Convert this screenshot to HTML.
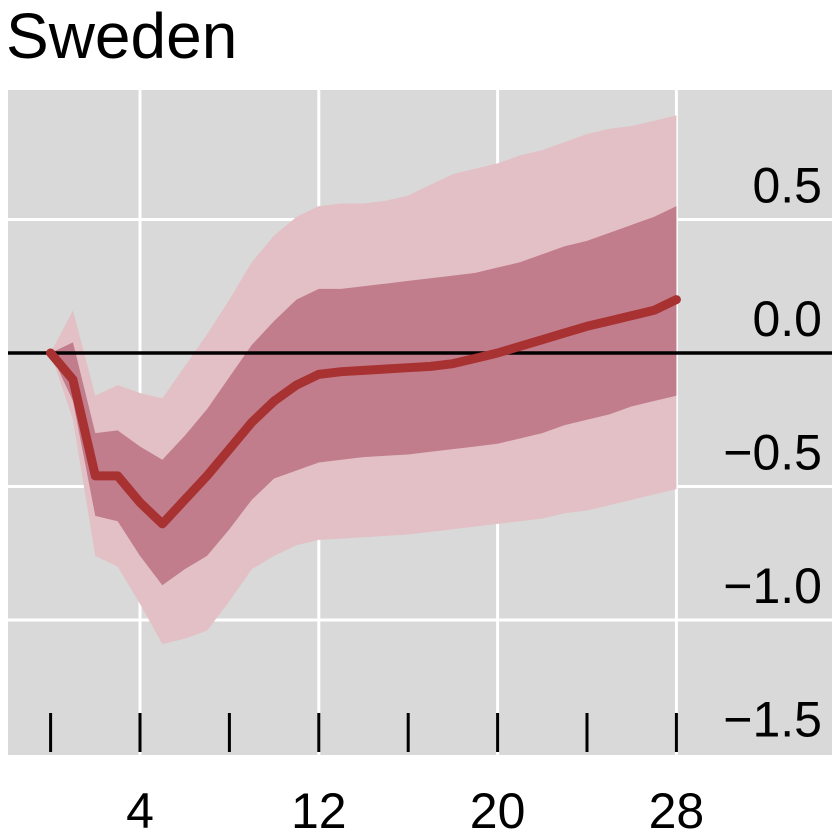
<!DOCTYPE html>
<html><head><meta charset="utf-8"><style>body{margin:0;background:#fff}svg{display:block}</style></head>
<body>
<svg width="840" height="838" xmlns="http://www.w3.org/2000/svg" font-family="Liberation Sans, DejaVu Sans, sans-serif">
<text x="6" y="58" font-size="64" fill="#000">Sweden</text>
<rect x="8" y="90" width="824" height="665" fill="#d9d9d9"/>
<g id="grid"></g><g id="bands"></g><g id="lines"></g><g id="axes"></g>
</svg>
<script>
const xs=[0,1,2,3,4,5,6,7,8,9,10,11,12,13,14,15,16,17,18,19,20,21,22,23,24,25,26,27,28];
const median=[0,-0.1,-0.46,-0.46,-0.56,-0.64,-0.55,-0.46,-0.36,-0.26,-0.18,-0.12,-0.08,-0.07,-0.065,-0.06,-0.055,-0.05,-0.04,-0.02,0,0.025,0.05,0.075,0.1,0.12,0.14,0.16,0.2];
const innerUp=[0,0.04,-0.3,-0.29,-0.35,-0.4,-0.31,-0.21,-0.09,0.03,0.12,0.2,0.24,0.24,0.25,0.26,0.27,0.28,0.29,0.3,0.32,0.34,0.37,0.4,0.42,0.45,0.48,0.51,0.55];
const innerLo=[0,-0.18,-0.61,-0.63,-0.76,-0.87,-0.81,-0.76,-0.66,-0.55,-0.47,-0.44,-0.41,-0.4,-0.39,-0.385,-0.38,-0.37,-0.36,-0.35,-0.34,-0.32,-0.3,-0.27,-0.25,-0.23,-0.2,-0.18,-0.16];
const outerUp=[0,0.16,-0.16,-0.12,-0.15,-0.17,-0.05,0.07,0.2,0.34,0.44,0.51,0.55,0.56,0.56,0.57,0.59,0.63,0.67,0.69,0.71,0.74,0.76,0.79,0.82,0.84,0.85,0.87,0.89];
const outerLo=[0,-0.25,-0.76,-0.8,-0.94,-1.09,-1.07,-1.04,-0.93,-0.81,-0.76,-0.72,-0.7,-0.695,-0.69,-0.685,-0.68,-0.67,-0.66,-0.65,-0.64,-0.63,-0.62,-0.6,-0.59,-0.57,-0.55,-0.53,-0.51];
const yTicks=[0.5,0,-0.5,-1,-1.5];
const yTickLabels=["0.5","0.0","\u22120.5","\u22121.0","\u22121.5"];
const xGrid=[4,12,20,28];
const xTicks=[0,4,8,12,16,20,24,28];
const xTickLabels=["4","12","20","28"];
const NS="http://www.w3.org/2000/svg";
const X=v=>50.6+v*22.35, Y=v=>353-v*267;
function mk(p,t,a){const e=document.createElementNS(NS,t);for(const k in a)e.setAttribute(k,a[k]);document.getElementById(p).appendChild(e);return e;}
yTicks.forEach((v,i)=>{if(v>-1.5){const l=mk('grid','line',{x1:8,x2:832,y1:Y(v),y2:Y(v),stroke:'#fff','stroke-width':3});

}
const t=mk('axes','text',{x:822,y:Y(v)-17,'text-anchor':'end','font-size':50,fill:'#000'});t.textContent=yTickLabels[i];

});
xGrid.forEach((v,i)=>{const l=mk('grid','line',{x1:X(v),x2:X(v),y1:90,y2:755,stroke:'#fff','stroke-width':3});


const t=mk('axes','text',{x:X(v),y:828,'text-anchor':'middle','font-size':50,fill:'#000'});t.textContent=xTickLabels[i];

});
xTicks.forEach(v=>{const l=mk('axes','line',{x1:X(v),x2:X(v),y1:713,y2:752,stroke:'#000','stroke-width':3});

});
function band(up,lo,fill,name){let d=xs.map((x,i)=>(i?'L':'M')+X(x)+','+Y(up[i])).join('');
for(let i=xs.length-1;i>=0;i--)d+='L'+X(xs[i])+','+Y(lo[i]);
const p=mk('bands','path',{d:d+'Z',fill:fill});

}
band(outerUp,outerLo,'#e2c0c5','outer-confidence-band');
band(innerUp,innerLo,'#c27d8c','inner-confidence-band');
const z=mk('lines','line',{x1:8,x2:832,y1:Y(0),y2:Y(0),stroke:'#000','stroke-width':3.5});


const m=mk('lines','path',{d:xs.map((x,i)=>(i?'L':'M')+X(x)+','+Y(median[i])).join(''),fill:'none',stroke:'#a83232','stroke-width':9,'stroke-linecap':'round','stroke-linejoin':'round'});


</script>
</body></html>
